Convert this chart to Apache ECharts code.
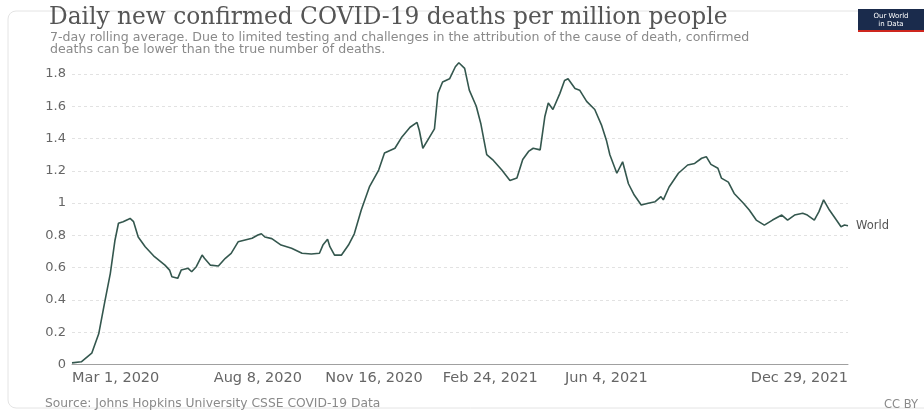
<!DOCTYPE html>
<html>
<head>
<meta charset="utf-8">
<script src="https://cdn.jsdelivr.net/npm/echarts@6/dist/echarts.min.js"></script>
<style>
html,body{margin:0;padding:0;background:#fff;}
#chart{width:924px;height:411px;}
</style>
</head>
<body>
<div id="chart"></div>
<script>
// ---- data ----
const startDate = '2020-03-01';
const endDate = '2021-12-29';
const seriesName = 'World';
const dates = [
'2020-03-01','2020-03-09','2020-03-18','2020-03-24','2020-03-29','2020-04-03','2020-04-07','2020-04-10','2020-04-14','2020-04-20',
'2020-04-23','2020-04-27','2020-05-03','2020-05-11','2020-05-20','2020-05-24','2020-05-26','2020-05-31','2020-06-03','2020-06-09',
'2020-06-12','2020-06-16','2020-06-21','2020-06-23','2020-06-28','2020-07-05','2020-07-11','2020-07-16','2020-07-22','2020-07-28',
'2020-08-03','2020-08-08','2020-08-11','2020-08-14','2020-08-20','2020-08-28','2020-09-06','2020-09-15','2020-09-23','2020-09-30',
'2020-10-03','2020-10-07','2020-10-09','2020-10-13','2020-10-19','2020-10-25','2020-10-30','2020-11-05','2020-11-12','2020-11-20',
'2020-11-25','2020-12-04','2020-12-10','2020-12-17','2020-12-23','2020-12-25','2020-12-28','2021-01-02','2021-01-07','2021-01-10',
'2021-01-14','2021-01-20','2021-01-25','2021-01-28','2021-02-02','2021-02-06','2021-02-12','2021-02-16','2021-02-21','2021-02-26',
'2021-03-06','2021-03-13','2021-03-19','2021-03-24','2021-03-29','2021-04-02','2021-04-08','2021-04-12','2021-04-15','2021-04-19',
'2021-04-25','2021-04-29','2021-05-02','2021-05-08','2021-05-12','2021-05-18','2021-05-25','2021-05-31','2021-06-04','2021-06-07',
'2021-06-13','2021-06-18','2021-06-23','2021-06-28','2021-07-04','2021-07-10','2021-07-16','2021-07-21','2021-07-23','2021-07-28',
'2021-08-05','2021-08-13','2021-08-19','2021-08-25','2021-08-29','2021-09-02','2021-09-08','2021-09-11','2021-09-17','2021-09-22',
'2021-09-30','2021-10-05','2021-10-11','2021-10-18','2021-10-25','2021-11-02','2021-11-07','2021-11-13','2021-11-20','2021-11-24',
'2021-11-30','2021-12-04','2021-12-08','2021-12-13','2021-12-19','2021-12-23','2021-12-26','2021-12-29'
];
const deaths = [
0.01,0.017,0.07,0.19,0.38,0.565,0.77,0.875,0.885,0.905,
0.885,0.79,0.73,0.668,0.616,0.585,0.544,0.534,0.585,0.596,
0.575,0.606,0.678,0.658,0.616,0.61,0.658,0.689,0.76,0.771,
0.782,0.802,0.81,0.79,0.78,0.74,0.72,0.689,0.685,0.689,
0.74,0.776,0.73,0.678,0.678,0.74,0.81,0.957,1.10,1.205,
1.31,1.34,1.41,1.47,1.50,1.45,1.34,1.40,1.46,1.68,
1.75,1.77,1.845,1.87,1.835,1.70,1.60,1.49,1.30,1.27,
1.205,1.14,1.155,1.27,1.32,1.34,1.33,1.535,1.62,1.58,
1.68,1.76,1.77,1.71,1.70,1.63,1.58,1.48,1.39,1.30,
1.185,1.256,1.12,1.05,0.988,0.999,1.009,1.04,1.02,1.10,
1.185,1.236,1.246,1.278,1.288,1.24,1.216,1.155,1.13,1.06,
0.999,0.957,0.895,0.864,0.895,0.926,0.895,0.926,0.937,0.926,
0.895,0.947,1.02,0.957,0.895,0.854,0.864,0.86
];
const tickDates = ['2020-03-01','2020-08-08','2020-11-16','2021-02-24','2021-06-04','2021-12-29'];
const tickLabels = ['Mar 1, 2020','Aug 8, 2020','Nov 16, 2020','Feb 24, 2021','Jun 4, 2021','Dec 29, 2021'];
const yTicks = [0,0.2,0.4,0.6,0.8,1,1.2,1.4,1.6,1.8];

const titleText = 'Daily new confirmed COVID-19 deaths per million people';
const subtitleText = '7-day rolling average. Due to limited testing and challenges in the attribution of the cause of death, confirmed\ndeaths can be lower than the true number of deaths.';
const sourceText = 'Source: Johns Hopkins University CSSE COVID-19 Data';
const licenseText = 'CC BY';

// ---- daily category axis ----
function iso(d){ return d.toISOString().slice(0,10); }
const categories = [];
for (let d = new Date(startDate + 'T00:00:00Z'); iso(d) <= endDate; d.setUTCDate(d.getUTCDate()+1)) {
  categories.push(iso(d));
}
const tickMap = {};
tickDates.forEach((d,i)=>{ tickMap[d] = tickLabels[i]; });
const catData = categories.map((c,i)=>{
  if (i === 0) return {value:c, textStyle:{align:'left'}};
  if (i === categories.length-1) return {value:c, textStyle:{align:'right'}};
  return c;
});
const seriesData = dates.map((d,i)=>[d, deaths[i]]);

const chart = echarts.init(document.getElementById('chart'), null, {renderer:'canvas'});
const labelFont = 'DejaVu Sans';
chart.setOption({
  animation:false,
  backgroundColor:'#ffffff',
  title:[
    {text:titleText, left:44, top:1,
     textStyle:{fontFamily:'DejaVu Serif', fontSize:23.3, fontWeight:'normal', color:'#555555'}},
    {text:subtitleText, left:45, top:27,
     textStyle:{fontFamily:labelFont, fontSize:12.6, fontWeight:'normal', color:'#8a8a8a', lineHeight:12}},
    {text:sourceText, left:40, top:393,
     textStyle:{fontFamily:labelFont, fontSize:12.3, fontWeight:'normal', color:'#8a8a8a'}},
    {text:licenseText, left:879, top:394,
     textStyle:{fontFamily:labelFont, fontSize:11.5, fontWeight:'normal', color:'#8a8a8a'}}
  ],
  graphic:[
    {type:'rect', shape:{x:8, y:11, width:940, height:397, r:8}, silent:true,
     style:{fill:'none', stroke:'#e4e4e4', lineWidth:1}, z:-10},
    {type:'rect', shape:{x:858, y:9, width:66, height:23}, style:{fill:'#1a2b4c'}},
    {type:'rect', shape:{x:858, y:30, width:66, height:2}, style:{fill:'#ce261e'}},
    {type:'text', x:891, y:16.5, style:{text:'Our World', fill:'#ffffff', font:'7px DejaVu Sans', align:'center', verticalAlign:'middle'}},
    {type:'text', x:891, y:24.5, style:{text:'in Data', fill:'#ffffff', font:'7px DejaVu Sans', align:'center', verticalAlign:'middle'}}
  ],
  grid:{left:72, right:76, top:74, bottom:46.5, containLabel:false},
  xAxis:{
    type:'category', data:catData, boundaryGap:false,
    axisLine:{show:true, lineStyle:{color:'#a0a0a0', width:1}},
    axisTick:{show:false},
    splitLine:{show:false},
    axisLabel:{
      interval:(idx, val)=> tickMap[val] !== undefined,
      formatter:(val)=> tickMap[val] || '',
      alignMinLabel:'left', alignMaxLabel:'right',
      color:'#666666', fontFamily:labelFont, fontSize:14.5, margin:6
    }
  },
  yAxis:{
    type:'value', min:yTicks[0], max:yTicks[yTicks.length-1], interval:0.2,
    axisLine:{show:false}, axisTick:{show:false},
    axisLabel:{color:'#666666', fontFamily:labelFont, fontSize:13, margin:6,
      formatter:(v)=> String(Math.round(v*10)/10)},
    splitLine:{show:true, lineStyle:{color:'#e2e2e2', type:[3,3], width:1}}
  },
  series:[{
    name:seriesName, type:'line', data:seriesData, showSymbol:false, clip:false,
    lineStyle:{color:'#34574e', width:1.6},
    endLabel:{show:true, formatter:seriesName, color:'#555555', fontFamily:labelFont, fontSize:11.5, distance:8}
  }]
});
</script>
</body>
</html>
